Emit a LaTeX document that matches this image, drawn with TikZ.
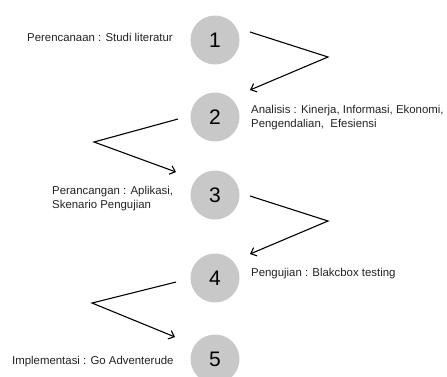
\documentclass[tikz,border=0pt]{standalone}
\usepackage{fontspec}
\setmainfont{Liberation Sans}
\usetikzlibrary{arrows.meta}
\definecolor{circgray}{HTML}{C8C8C8}
\definecolor{txtgray}{HTML}{222222}
\begin{document}
\begin{tikzpicture}[x=1pt,y=-1pt,
  stepcircle/.style={circle,fill=circgray,minimum size=49pt,inner sep=0pt,font=\fontsize{21}{21}\selectfont},
  label/.style={font=\fontsize{11.4}{14}\selectfont,text=txtgray,inner sep=0pt,align=left},
  flow/.style={line width=1.1pt,-{Straight Barb[length=5pt,width=9pt]}}]
\useasboundingbox (0,0) rectangle (447,376);
\node[stepcircle] (c1) at (215,40) {1};
\node[stepcircle] (c2) at (215,117) {2};
\node[stepcircle] (c3) at (215,195) {3};
\node[stepcircle] (c4) at (215,278) {4};
\node[stepcircle] (c5) at (215,359) {5};
\node[label,anchor=west] (t1) at (27,37) {Perencanaan : Studi literatur};
\node[label,anchor=west] (t2) at (251,118) {Analisis : Kinerja, Informasi, Ekonomi,\\Pengendalian,\ \ Efesiensi};
\node[label,anchor=west] (t3) at (52,199) {Perancangan : Aplikasi,\\Skenario Pengujian};
\node[label,anchor=west] (t4) at (251,274) {Pengujian : Blakcbox testing};
\node[label,anchor=west] (t5) at (12,362) {Implementasi : Go Adventerude};
\coordinate (s1) at (250,32);  \coordinate (b1) at (328,57); \coordinate (e1) at (250,90);
\coordinate (s2) at (178,119); \coordinate (b2) at (94,142); \coordinate (e2) at (176,172);
\coordinate (s3) at (250,196); \coordinate (b3) at (328,221); \coordinate (e3) at (250,254);
\coordinate (s4) at (176,282); \coordinate (b4) at (92,303); \coordinate (e4) at (175,337);
\draw[flow] (s1) -- (b1) -- (e1);
\draw[flow] (s2) -- (b2) -- (e2);
\draw[flow] (s3) -- (b3) -- (e3);
\draw[flow] (s4) -- (b4) -- (e4);
\end{tikzpicture}
\end{document}
